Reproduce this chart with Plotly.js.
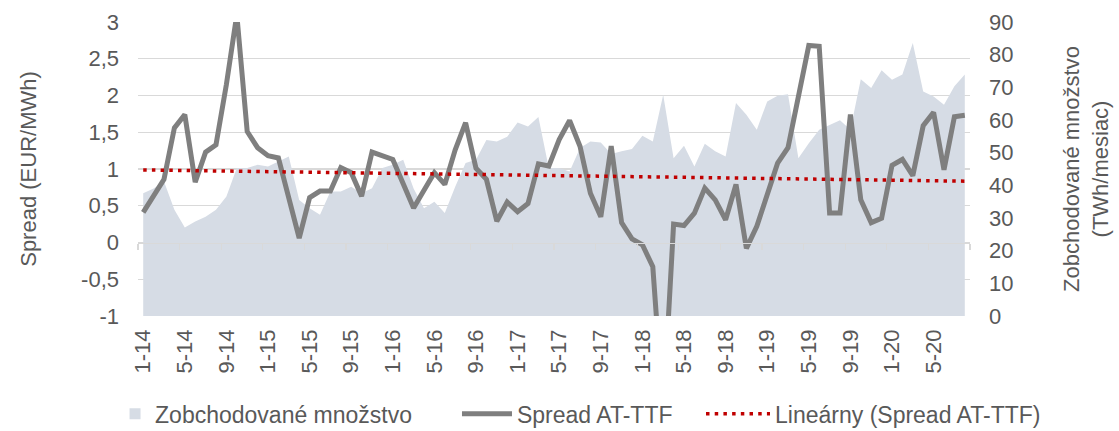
<!DOCTYPE html>
<html><head><meta charset="utf-8">
<script src="https://cdn.plot.ly/plotly-3.0.1.min.js"></script>
<style>html,body{margin:0;padding:0;background:#fff}#chart{width:1119px;height:431px}</style>
</head><body><div id="chart"></div>
<script>
const months = ["1-14","2-14","3-14","4-14","5-14","6-14","7-14","8-14","9-14","10-14","11-14","12-14",
"1-15","2-15","3-15","4-15","5-15","6-15","7-15","8-15","9-15","10-15","11-15","12-15",
"1-16","2-16","3-16","4-16","5-16","6-16","7-16","8-16","9-16","10-16","11-16","12-16",
"1-17","2-17","3-17","4-17","5-17","6-17","7-17","8-17","9-17","10-17","11-17","12-17",
"1-18","2-18","3-18","4-18","5-18","6-18","7-18","8-18","9-18","10-18","11-18","12-18",
"1-19","2-19","3-19","4-19","5-19","6-19","7-19","8-19","9-19","10-19","11-19","12-19",
"1-20","2-20","3-20","4-20","5-20","6-20","7-20","8-20"];

const spread = [0.41,0.63,0.86,1.56,1.74,0.82,1.23,1.33,2.15,3.1,1.51,1.29,
1.18,1.15,0.58,0.06,0.61,0.70,0.70,1.02,0.95,0.63,1.23,1.18,
1.13,0.80,0.47,0.71,0.95,0.79,1.26,1.63,1.01,0.86,0.29,0.55,
0.42,0.53,1.07,1.04,1.40,1.66,1.31,0.67,0.35,1.31,0.27,0.05,
-0.03,-0.33,-2.3,0.25,0.23,0.40,0.74,0.58,0.31,0.79,-0.08,0.22,
0.63,1.08,1.29,1.99,2.68,2.67,0.40,0.40,1.74,0.58,0.27,0.33,
1.05,1.13,0.91,1.59,1.77,0.99,1.71,1.73];

const volume = [37.6,39.0,41.2,32.5,27.1,28.9,30.4,32.5,36.6,45.3,45.3,46.3,
45.8,47.3,48.8,35.5,33.0,31.0,38.1,38.1,39.6,37.6,39.1,45.3,
46.3,47.8,39.0,33.0,35.0,31.5,39.6,46.8,47.8,53.9,53.4,54.9,
59.2,58.0,60.9,45.3,45.3,44.2,51.4,53.4,53.1,49.6,50.4,51.1,
55.2,53.4,67.7,48.3,52.1,45.8,52.7,50.4,48.8,65.2,61.6,57.0,
65.7,67.4,67.9,48.3,52.9,57.0,58.5,59.9,57.0,72.5,69.8,75.2,
72.3,73.9,83.6,68.7,67.2,64.7,70.3,73.9];

const leftTicks = [-1,-0.5,0,0.5,1,1.5,2,2.5,3];
const rightTicks = [0,10,20,30,40,50,60,70,80,90];
const labelStep = 4;

const idx = months.map((_, i) => i);
// linear trend (least squares) of the spread series
const n = spread.length;
const mx = idx.reduce((a, b) => a + b, 0) / n;
const my = spread.reduce((a, b) => a + b, 0) / n;
let sxy = 0, sxx = 0;
for (let i = 0; i < n; i++) { sxy += (idx[i] - mx) * (spread[i] - my); sxx += (idx[i] - mx) ** 2; }
const slope = sxy / sxx, icpt = my - slope * mx;
const trend = idx.map(i => icpt + slope * i);

const tickIdx = idx.filter(i => i % labelStep === 0);
const tickTxt = tickIdx.map(i => months[i]);
const bounds = [];
for (let b = -0.5; b <= n - 0.5; b += labelStep) bounds.push(b);
const fmt = v => String(v).replace('.', ',');

const TXT = '#595959', GRID = '#d9d9d9';
const FONT = 'Liberation Sans, Arial, sans-serif';

const traces = [
  {x: idx, y: volume, type: 'scatter', mode: 'none', fill: 'tozeroy', fillcolor: '#d6dce5',
   xaxis: 'x', yaxis: 'y', showlegend: false, hoverinfo: 'skip'},
  {x: [null], y: [null], type: 'scatter', mode: 'markers', name: 'Zobchodované množstvo',
   marker: {symbol: 'square', size: 11, color: '#d6dce5'}, xaxis: 'x', yaxis: 'y', legend: 'legend'},
  {x: idx, y: spread, type: 'scatter', mode: 'lines', name: 'Spread AT-TTF',
   line: {color: '#7f7f7f', width: 5}, xaxis: 'x', yaxis: 'y2', legend: 'legend2'},
  {x: idx, y: trend, type: 'scatter', mode: 'lines', name: 'Lineárny (Spread AT-TTF)',
   line: {color: '#c00000', width: 3.5, dash: '3.5px,5.2px'}, xaxis: 'x2', yaxis: 'y2', legend: 'legend3'}
];

const legBase = {orientation: 'h', yanchor: 'middle', xanchor: 'left', y: -0.333,
  bgcolor: 'rgba(0,0,0,0)', font: {family: FONT, size: 23, color: TXT}};

const layout = {
  width: 1119, height: 431,
  margin: {l: 138, r: 149, t: 22, b: 115, autoexpand: false},
  paper_bgcolor: '#fff', plot_bgcolor: 'rgba(0,0,0,0)',
  separators: ', ',
  font: {family: FONT, size: 22, color: TXT},
  showlegend: true,
  xaxis: {range: [-0.5, n - 0.5], tickmode: 'array', tickvals: tickIdx, ticktext: tickTxt,
    tickangle: -90, ticks: '', showgrid: false, zeroline: false, showline: false,
    ticklabelstandoff: 8, automargin: false, fixedrange: true},
  xaxis2: {overlaying: 'x', anchor: 'free', position: 0.25, range: [-0.5, n - 0.5],
    tickmode: 'array', tickvals: bounds, ticks: 'outside', ticklen: 6, tickcolor: GRID, tickwidth: 1.3,
    showticklabels: false, showline: true, linecolor: GRID, linewidth: 1.3,
    showgrid: false, zeroline: false, automargin: false, fixedrange: true},
  yaxis: {side: 'right', range: [0, 90], tickmode: 'array', tickvals: rightTicks,
    ticktext: rightTicks.map(fmt), showgrid: false, zeroline: false, ticks: '',
    ticklabelstandoff: 18, automargin: false, fixedrange: true,
    title: {text: 'Zobchodované množstvo<br>(TWh/mesiac)', standoff: 51, font: {size: 22, color: TXT}}},
  yaxis2: {overlaying: 'y', side: 'left', range: [-1, 3], tickmode: 'array', tickvals: leftTicks,
    ticktext: leftTicks.map(fmt), showgrid: true, gridcolor: GRID, gridwidth: 1.3, zeroline: false,
    ticks: '', ticklabelstandoff: 18, automargin: false, fixedrange: true,
    title: {text: 'Spread (EUR/MWh)', standoff: 38, font: {size: 22, color: TXT}}},
  legend: Object.assign({}, legBase, {x: -0.0276}),
  legend2: Object.assign({}, legBase, {x: 0.3834, itemwidth: 50}),
  legend3: Object.assign({}, legBase, {x: 0.6767, itemwidth: 64})
};

Plotly.newPlot('chart', traces, layout, {displayModeBar: false, staticPlot: true});
</script>
</body></html>
